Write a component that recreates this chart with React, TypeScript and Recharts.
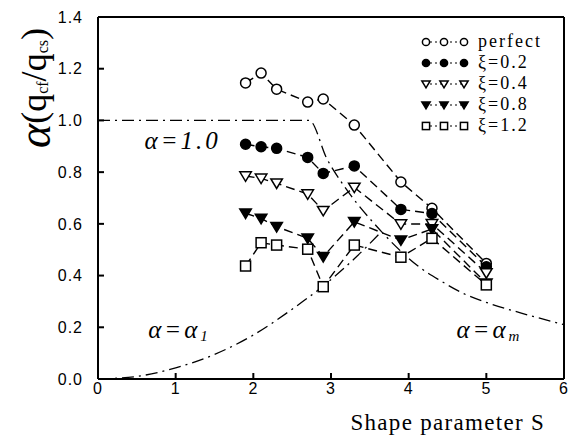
import React from "react";
import { LineChart, Line, XAxis, YAxis, Legend, ReferenceDot } from "recharts";

// shape parameter S of the measured points
const sValues = [1.9, 2.1, 2.3, 2.7, 2.9, 3.3, 3.9, 4.3, 5.0];

// measured ratio for each case
const perfect = [1.145, 1.183, 1.121, 1.071, 1.083, 0.982, 0.762, 0.66, 0.447];
const xi02 = [0.908, 0.898, 0.892, 0.857, 0.795, 0.824, 0.656, 0.64, 0.434];
const xi04 = [0.785, 0.776, 0.757, 0.715, 0.651, 0.741, 0.599, 0.6, 0.41];
const xi08 = [0.641, 0.621, 0.589, 0.544, 0.473, 0.608, 0.537, 0.58, 0.37];
const xi12 = [0.437, 0.527, 0.518, 0.502, 0.357, 0.518, 0.471, 0.544, 0.364];

// upper bound curve (a = 1.0, then a = a_m)
const upperS = [0, 1, 2, 2.72, 2.95, 3.16, 3.5, 3.65, 4.15, 4.41, 4.71, 5.06, 5.45, 6];
const upperA = [1.0, 1.0, 1.0, 1.0, 0.85, 0.75, 0.62, 0.57, 0.43, 0.38, 0.33, 0.29, 0.255, 0.21];

// lower curve (a = a_1)
const lowerS = [0, 0.5, 1, 1.5, 2, 2.5, 2.9, 3.3, 3.65];
const lowerA = [0, 0.01, 0.043, 0.095, 0.17, 0.27, 0.36, 0.465, 0.57];

const xTicks = [0, 1, 2, 3, 4, 5, 6];
const yTicks = [0, 0.2, 0.4, 0.6, 0.8, 1.0, 1.2, 1.4];

type Kind = "circle" | "dot" | "tri" | "trif" | "square";

const seriesList: { name: string; values: number[]; kind: Kind }[] = [
  { name: "perfect", values: perfect, kind: "circle" },
  { name: "ξ=0.2", values: xi02, kind: "dot" },
  { name: "ξ=0.4", values: xi04, kind: "tri" },
  { name: "ξ=0.8", values: xi08, kind: "trif" },
  { name: "ξ=1.2", values: xi12, kind: "square" },
];

function Marker({ kind, cx, cy, s }: { kind: Kind; cx: number; cy: number; s: number }) {
  if (cx == null || cy == null) return null;
  const sw = 1.5;
  switch (kind) {
    case "circle":
      return <circle cx={cx} cy={cy} r={s} fill="#fff" stroke="#000" strokeWidth={sw} />;
    case "dot":
      return <circle cx={cx} cy={cy} r={s} fill="#000" stroke="#000" strokeWidth={sw} />;
    case "tri":
    case "trif": {
      const pts = `${cx - s * 1.15},${cy - s * 0.85} ${cx + s * 1.15},${cy - s * 0.85} ${cx},${cy + s * 1.05}`;
      return (
        <polygon
          points={pts}
          fill={kind === "trif" ? "#000" : "#fff"}
          stroke="#000"
          strokeWidth={sw}
        />
      );
    }
    default:
      return (
        <rect x={cx - s} y={cy - s} width={2 * s} height={2 * s} fill="#fff" stroke="#000" strokeWidth={sw} />
      );
  }
}

const serifFont = "'Liberation Serif', 'DejaVu Serif', serif";
const sansFont = "'Liberation Sans', Arial, sans-serif";

function LegendBox() {
  return (
    <div style={{ fontFamily: serifFont, fontSize: 18, color: "#000", lineHeight: "21px" }}>
      {seriesList.map((s) => (
        <div key={s.name} style={{ display: "flex", alignItems: "center", height: 21 }}>
          <svg width={52} height={14} style={{ marginRight: 6 }}>
            <line x1={5} y1={7} x2={47} y2={7} stroke="#000" strokeWidth={1.2} strokeDasharray="2 3" />
            {[6, 24, 44].map((x) => (
              <Marker key={x} kind={s.kind} cx={x} cy={7} s={3.6} />
            ))}
          </svg>
          <span style={{ letterSpacing: 2 }}>{s.name}</span>
        </div>
      ))}
    </div>
  );
}

const noteStyle = {
  fontFamily: serifFont,
  fontStyle: "italic" as const,
  fontSize: 25,
  letterSpacing: 3,
  fill: "#000",
};

function Note({ cx, cy, main, sub }: { cx?: number; cy?: number; main: string; sub?: string }) {
  if (cx == null || cy == null) return null;
  return (
    <text x={cx} y={cy} textAnchor="middle" dominantBaseline="central" {...noteStyle}>
      {main}
      {sub && (
        <tspan fontSize={15} dy={6}>
          {sub}
        </tspan>
      )}
    </text>
  );
}

function YTitle() {
  const cx = 34;
  const cy = 88;
  return (
    <text
      transform={`translate(${cx},${cy}) rotate(-90)`}
      textAnchor="middle"
      dominantBaseline="central"
      fontFamily={serifFont}
      fontSize={36}
      fill="#000"
    >
      <tspan fontStyle="italic" fontSize={46}>α</tspan>
      <tspan>(q</tspan>
      <tspan fontSize={16} dy={8}>cf</tspan>
      <tspan dy={-8}>/q</tspan>
      <tspan fontSize={16} dy={8}>cs</tspan>
      <tspan dy={-8}>)</tspan>
    </text>
  );
}

function XTitle({ viewBox }: any) {
  const x = viewBox.x + viewBox.width - 19;
  const y = viewBox.y + 51;
  return (
    <text x={x} y={y} textAnchor="end" fontFamily={serifFont} fontSize={23} letterSpacing={1.3} fill="#000">
      Shape parameter S
    </text>
  );
}

export default function App() {
  const upperData = upperS.map((s, i) => ({ s, a: upperA[i] }));
  const lowerData = lowerS.map((s, i) => ({ s, a: lowerA[i] }));

  const tickStyle = { fontFamily: sansFont, fontSize: 16, fill: "#000", letterSpacing: 1 };

  return (
    <div style={{ position: "absolute", left: 0, top: 0, width: 570, height: 437, background: "#fff" }}>
      <LineChart width={570} height={437} margin={{ top: 16, right: 5, bottom: 0, left: 0 }}>
        <XAxis
          type="number"
          dataKey="s"
          domain={[0, 6]}
          ticks={xTicks}
          allowDataOverflow
          height={58}
          stroke="#000"
          strokeWidth={2}
          tickSize={-6}
          tickMargin={10}
          tick={tickStyle}
          label={<XTitle />}
        />
        <XAxis
          xAxisId="top"
          orientation="top"
          type="number"
          dataKey="s"
          domain={[0, 6]}
          ticks={xTicks}
          allowDataOverflow
          height={1}
          stroke="#000"
          strokeWidth={2}
          tickSize={-6}
          tick={false}
        />
        <YAxis
          type="number"
          domain={[0, 1.4]}
          ticks={yTicks}
          allowDataOverflow
          width={98}
          stroke="#000"
          strokeWidth={2}
          tickSize={-6}
          tickMargin={21}
          tick={tickStyle}
          tickFormatter={(v: number) => v.toFixed(1)}
          label={<YTitle />}
        />
        <YAxis
          yAxisId="right"
          orientation="right"
          type="number"
          domain={[0, 1.4]}
          ticks={yTicks}
          allowDataOverflow
          width={1}
          stroke="#000"
          strokeWidth={2}
          tickSize={-6}
          tick={false}
        />

        {/* a = 1.0 / a = a_m, drawn on the top/right axes (same scales) */}
        <Line
          data={upperData}
          dataKey="a"
          xAxisId="top"
          yAxisId="right"
          type="monotone"
          stroke="#000"
          strokeWidth={1.3}
          strokeDasharray="12 5 2 5"
          dot={false}
          activeDot={false}
          isAnimationActive={false}
          legendType="none"
        />
        <Line
          data={lowerData}
          dataKey="a"
          type="monotone"
          stroke="#000"
          strokeWidth={1.3}
          strokeDasharray="12 5 2 5"
          dot={false}
          activeDot={false}
          isAnimationActive={false}
          legendType="none"
        />

        {seriesList.map((sr) => (
          <Line
            key={sr.name}
            name={sr.name}
            data={sValues.map((s, i) => ({ s, v: sr.values[i] }))}
            dataKey="v"
            type="linear"
            stroke="#000"
            strokeWidth={1.4}
            strokeDasharray="9 5"
            dot={(p: any) => <Marker key={p.index} kind={sr.kind} cx={p.cx} cy={p.cy} s={5} />}
            activeDot={false}
            isAnimationActive={false}
          />
        ))}

        <ReferenceDot x={1.09} y={0.924} r={1} shape={(p: any) => <Note cx={p.cx} cy={p.cy} main="α=1.0" />} />
        <ReferenceDot x={1.05} y={0.19} r={1} shape={(p: any) => <Note cx={p.cx} cy={p.cy} main="α=α" sub="1" />} />
        <ReferenceDot x={5.04} y={0.19} r={1} shape={(p: any) => <Note cx={p.cx} cy={p.cy} main="α=α" sub="m" />} />

        <Legend
          layout="vertical"
          align="center"
          verticalAlign="middle"
          wrapperStyle={{ position: "absolute", left: 420, top: 31, width: 145 }}
          content={() => <LegendBox />}
        />
      </LineChart>
    </div>
  );
}
